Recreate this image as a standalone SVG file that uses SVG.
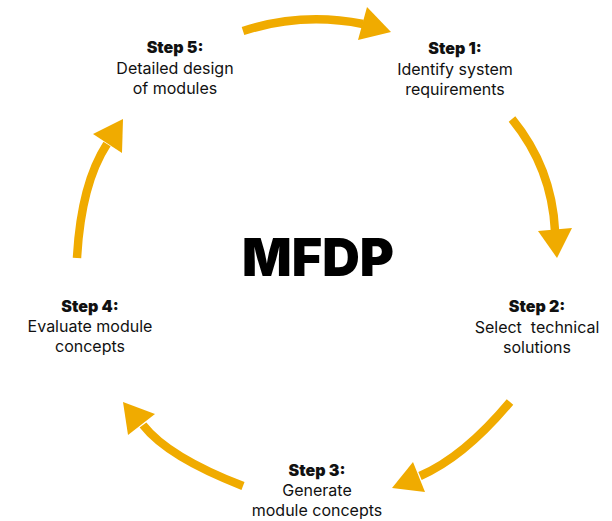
<svg xmlns="http://www.w3.org/2000/svg" width="612" height="521" viewBox="0 0 612 521">
<style>
.t{font-family:Inter,"Liberation Sans",sans-serif;font-size:16px;fill:#111;text-anchor:middle}
.b{font-weight:900}
.shaft{fill:none;stroke:#F0AB00;stroke-width:8.5;stroke-linecap:butt}
.head{fill:#F0AB00}
.title{font-family:Inter,"Liberation Sans",sans-serif;font-size:52px;font-weight:900;fill:#000;text-anchor:middle}
</style>
<rect width="612" height="521" fill="#fff"/>
<g id="connectors">
<path class="shaft" d="M243,31 Q302,12 363,24"/>
<polygon class="head" points="367,7 391,32 358,40"/>
<path class="shaft" d="M512,119 Q552,168 555,231"/>
<polygon class="head" points="538,231 572,228 557,258"/>
<path class="shaft" d="M510,402 Q464,457 420,476"/>
<polygon class="head" points="413,462 425,492 392,488"/>
<path class="shaft" d="M243,486 Q168,457 143,425"/>
<polygon class="head" points="155,414 128,435 123,402"/>
<path class="shaft" d="M77,258 Q81,184 107,144"/>
<polygon class="head" points="93,134 122,153 123,119"/>
</g>
<g id="title"><text class="title" x="318" y="276">MFDP</text></g>
<g id="step1">
<text class="t b" x="455" y="54">Step 1:</text>
<text class="t" x="455" y="75">Identify system</text>
<text class="t" x="455" y="95">requirements</text>
</g>
<g id="step2">
<text class="t b" x="537" y="312">Step 2:</text>
<text class="t" x="537" y="333" xml:space="preserve">Select  technical</text>
<text class="t" x="537" y="353">solutions</text>
</g>
<g id="step3">
<text class="t b" x="317" y="476">Step 3:</text>
<text class="t" x="317" y="496">Generate</text>
<text class="t" x="317" y="516">module concepts</text>
</g>
<g id="step4">
<text class="t b" x="90" y="312">Step 4:</text>
<text class="t" x="90" y="332">Evaluate module</text>
<text class="t" x="90" y="352">concepts</text>
</g>
<g id="step5">
<text class="t b" x="175" y="53">Step 5:</text>
<text class="t" x="175" y="74">Detailed design</text>
<text class="t" x="175" y="94">of modules</text>
</g>
</svg>
